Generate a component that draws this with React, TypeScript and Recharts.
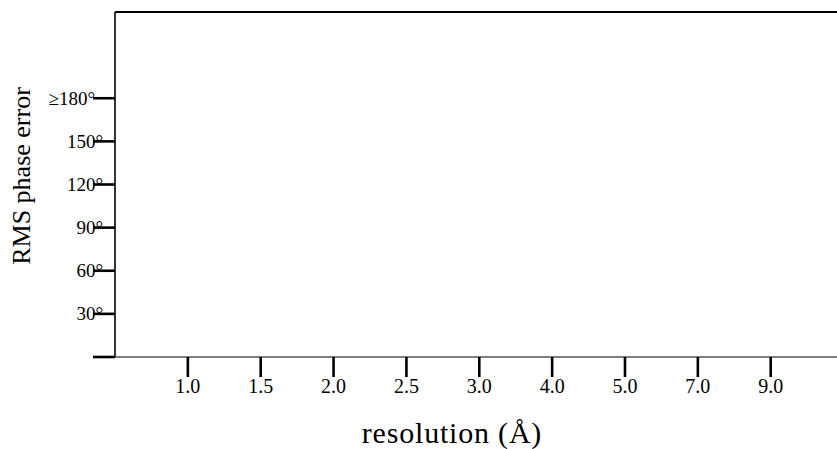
import React from 'react';
import { LineChart, Line, XAxis, YAxis, ReferenceLine, Label } from 'recharts';

const resolutionLabels = ['1.0', '1.5', '2.0', '2.5', '3.0', '4.0', '5.0', '7.0', '9.0'];
const resolutionIndex = [1, 2, 3, 4, 5, 6, 7, 8, 9];
const rmsPhaseError: (number | null)[] = [null, null, null, null, null, null, null, null, null];
const yTicks = [0, 30, 60, 90, 120, 150, 180];
const yMax = 240;

const data = resolutionIndex.map((x, i) => ({ x, label: resolutionLabels[i], rms: rmsPhaseError[i] }));

const FONT = "'Liberation Serif', 'Times New Roman', serif";

const xFmt = (v: number) => {
  const i = resolutionIndex.indexOf(v);
  return i >= 0 ? resolutionLabels[i] : '';
};
const yFmt = (v: number) => (v === 0 ? '' : v === 180 ? '≥180°' : `${v}°`);

const YTick = (props: any) => {
  const { x, y, payload } = props;
  const v = payload.value as number;
  const txt = yFmt(v);
  if (!txt) return null;
  const shift = v === 180 ? 2 : 10;
  return (
    <text x={x + shift} y={y} dy="0.33em" textAnchor="end" fontSize={19} fontFamily={FONT} fill="#000">
      {txt}
    </text>
  );
};

export default function App() {
  return (
    <div style={{ position: 'absolute', left: 0, top: 0, width: 837, height: 449, background: '#fff' }}>
      <LineChart width={837} height={449} data={data} margin={{ top: 12, right: 0, left: 0, bottom: 0 }}>
        <XAxis
          dataKey="x"
          type="number"
          domain={[0, 9.91]}
          ticks={resolutionIndex}
          tickFormatter={xFmt}
          height={92}
          tickSize={20}
          tickMargin={2}
          axisLine={{ stroke: '#555', strokeWidth: 1.6 }}
          tickLine={{ stroke: '#000', strokeWidth: 2.6 }}
          tick={{ fill: '#000', fontSize: 20, fontFamily: FONT }}
          allowDataOverflow
        >
          <Label
            content={() => (
              <text
                x={452}
                y={443}
                textAnchor="middle"
                fontSize={30}
                letterSpacing={0.8}
                fontFamily={FONT}
                fill="#000"
              >
                resolution (Å)
              </text>
            )}
          />
        </XAxis>
        <YAxis
          type="number"
          domain={[0, yMax]}
          ticks={yTicks}
          width={115}
          tickSize={22}
          tickMargin={0}
          axisLine={{ stroke: '#000', strokeWidth: 1.6 }}
          tickLine={{ stroke: '#000', strokeWidth: 2.6 }}
          tick={<YTick />}
          allowDataOverflow
        >
          <Label
            content={() => (
              <text
                x={30}
                y={176}
                transform="rotate(-90 30 176)"
                textAnchor="middle"
                fontSize={26}
                fontFamily={FONT}
                fill="#000"
              >
                RMS phase error
              </text>
            )}
          />
        </YAxis>
        <ReferenceLine y={yMax} stroke="#000" strokeWidth={2} ifOverflow="visible" />
        <Line dataKey="rms" isAnimationActive={false} stroke="#000" dot={false} />
      </LineChart>
    </div>
  );
}
